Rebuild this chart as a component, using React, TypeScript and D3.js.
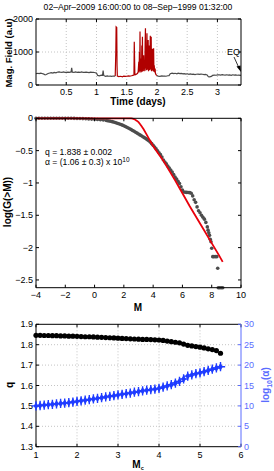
import React from "react";
import * as d3 from "d3";

const FONT = '"Liberation Sans", Arial, Helvetica, sans-serif';

// ---- top panel: magnetic field time series ----
const greyT1 = [0, 0.03, 0.05, 0.08, 0.1, 0.13, 0.15, 0.17, 0.2, 0.23, 0.25, 0.28, 0.3, 0.33, 0.35, 0.38, 0.4, 0.43, 0.45, 0.48, 0.5, 0.53, 0.55, 0.58, 0.59, 0.6, 0.63, 0.65, 0.68, 0.7, 0.73, 0.75, 0.78, 0.8, 0.83, 0.85, 0.88, 0.9, 0.93, 0.95, 0.98, 1.0, 1.02, 1.05, 1.08, 1.1, 1.11, 1.12, 1.15, 1.18, 1.2, 1.23, 1.25, 1.28, 1.31];
const greyV1 = [340, 355, 345, 360, 350, 330, 305, 320, 350, 365, 375, 360, 380, 370, 385, 400, 390, 380, 395, 385, 380, 390, 385, 395, 520, 390, 380, 395, 385, 390, 380, 395, 385, 380, 390, 385, 375, 390, 380, 385, 370, 360, 290, 280, 300, 295, 440, 290, 260, 275, 265, 270, 262, 272, 270];
const redT = [1.31, 1.32, 1.325, 1.335, 1.34, 1.345, 1.37, 1.4, 1.43, 1.45, 1.48, 1.5, 1.53, 1.55, 1.58, 1.6, 1.62, 1.625, 1.635, 1.64, 1.66, 1.68, 1.69, 1.7, 1.705, 1.71, 1.715, 1.72, 1.725, 1.73, 1.735, 1.74, 1.745, 1.75, 1.755, 1.76, 1.765, 1.77, 1.775, 1.78, 1.785, 1.79, 1.8, 1.805, 1.81, 1.815, 1.82, 1.825, 1.83, 1.835, 1.84, 1.845, 1.85, 1.855, 1.86, 1.865, 1.87, 1.875, 1.88, 1.885, 1.89, 1.895, 1.9, 1.905, 1.91, 1.915, 1.92, 1.925, 1.93, 1.935, 1.94, 1.945, 1.95, 1.955, 1.96, 1.965, 1.97, 1.975, 1.98, 1.99, 2.0];
const redV = [270, 1000, 1760, 1740, 600, 270, 255, 265, 250, 270, 260, 265, 275, 270, 280, 290, 300, 1310, 320, 310, 330, 350, 420, 700, 380, 1000, 450, 1620, 420, 600, 380, 800, 430, 1200, 400, 1460, 450, 700, 420, 900, 480, 600, 420, 1300, 1720, 500, 1000, 450, 800, 1570, 460, 700, 480, 1360, 420, 900, 500, 1200, 450, 800, 1490, 470, 600, 1460, 420, 900, 500, 1100, 440, 700, 420, 1110, 400, 600, 450, 380, 500, 350, 330, 300, 290];
const greyT2 = [2.0, 2.02, 2.05, 2.08, 2.1, 2.13, 2.15, 2.18, 2.2, 2.22, 2.25, 2.28, 2.3, 2.33, 2.35, 2.38, 2.4, 2.43, 2.45, 2.48, 2.5, 2.53, 2.55, 2.58, 2.6, 2.63, 2.65, 2.68, 2.7, 2.73, 2.75, 2.78, 2.8, 2.83, 2.85, 2.87, 2.9, 2.92, 2.95, 2.98, 3.0, 3.03, 3.05, 3.08, 3.1, 3.13, 3.15, 3.18, 3.2, 3.23, 3.25, 3.28, 3.3, 3.33, 3.35, 3.39];
const greyV2 = [290, 270, 262, 275, 268, 272, 265, 280, 285, 340, 360, 345, 355, 340, 360, 345, 350, 335, 345, 330, 340, 325, 335, 320, 330, 315, 325, 330, 320, 330, 325, 315, 320, 305, 250, 245, 260, 290, 300, 295, 305, 310, 300, 315, 305, 300, 310, 300, 305, 295, 310, 300, 305, 295, 300, 290];
const timeTicks = [0.5, 1, 1.5, 2, 2.5, 3];
const fieldTicks = [0, 1000, 2000];

// ---- middle panel: cumulative distribution and q-exponential fit ----
const magM = [-4.0, -3.8, -3.6, -3.4, -3.2, -3.0, -2.8, -2.6, -2.4, -2.2, -2.0, -1.8, -1.6, -1.4, -1.2, -1.0, -0.8, -0.6, -0.4, -0.2, 0.0, 0.2, 0.4, 0.6, 0.8, 0.9, 1.0, 1.1, 1.2, 1.3, 1.4, 1.5, 1.6, 1.7, 1.8, 1.9, 2.0, 2.1, 2.2, 2.3, 2.4, 2.5, 2.6, 2.7, 2.8, 2.9, 3.0, 3.1, 3.2, 3.3, 3.4, 3.5, 3.6, 3.7, 3.8, 3.9, 4.0, 4.1, 4.2, 4.3, 4.4, 4.5, 4.6, 4.7, 4.8, 4.9, 5.0, 5.1, 5.2, 5.3, 5.4, 5.5, 5.6, 5.7, 5.8, 5.9, 6.0, 6.1, 6.2, 6.3, 6.4, 6.5, 6.6, 6.7, 6.8, 6.9, 7.0, 7.1, 7.2, 7.3, 7.4, 7.5, 7.6, 7.7, 7.75, 7.8, 7.85, 7.9, 7.95, 8.0, 8.07, 8.15, 8.25, 8.35, 8.41, 8.45, 8.55, 8.65, 8.75];
const magLogG = [0, 0, 0, 0, 0, 0, 0, 0, 0, 0, 0, 0, 0, -0.001, -0.002, -0.003, -0.005, -0.007, -0.009, -0.012, -0.015, -0.018, -0.022, -0.027, -0.033, -0.037, -0.041, -0.046, -0.052, -0.058, -0.065, -0.072, -0.08, -0.088, -0.097, -0.106, -0.116, -0.127, -0.138, -0.15, -0.162, -0.175, -0.188, -0.201, -0.215, -0.229, -0.243, -0.257, -0.271, -0.285, -0.299, -0.314, -0.33, -0.348, -0.368, -0.392, -0.418, -0.445, -0.473, -0.502, -0.532, -0.562, -0.6, -0.645, -0.675, -0.705, -0.74, -0.77, -0.8, -0.83, -0.87, -0.91, -0.94, -0.975, -1.01, -1.06, -1.11, -1.14, -1.143, -1.146, -1.148, -1.15, -1.16, -1.2, -1.26, -1.3, -1.37, -1.43, -1.46, -1.5, -1.53, -1.56, -1.61, -1.68, -1.73, -1.77, -1.81, -1.87, -1.91, -2.01, -2.14, -2.14, -2.14, -2.14, -2.32, -2.62, -2.62, -2.62, -2.62];
const fitM = [-4, 2.5, 2.6, 2.7, 2.8, 2.9, 3.0, 3.1, 3.2, 3.35, 3.5, 3.7, 3.85, 4.0, 4.3, 4.7, 5.0, 5.5, 6.0, 6.5, 7.0, 7.5, 8.0, 8.5, 8.75];
const fitLogG = [0, 0, -0.004, -0.012, -0.025, -0.04, -0.06, -0.088, -0.12, -0.17, -0.23, -0.31, -0.37, -0.43, -0.53, -0.655, -0.77, -0.96, -1.16, -1.36, -1.55, -1.74, -1.93, -2.12, -2.22];
const mTicks = [-4, -2, 0, 2, 4, 6, 8, 10];
const gTicks = [0, -0.5, -1, -1.5, -2, -2.5];

// ---- bottom panel: q and log10(alpha) versus Mc ----
const mc = [1.0, 1.1, 1.2, 1.3, 1.4, 1.5, 1.6, 1.7, 1.8, 1.9, 2.0, 2.1, 2.2, 2.3, 2.4, 2.5, 2.6, 2.7, 2.8, 2.9, 3.0, 3.1, 3.2, 3.3, 3.4, 3.5, 3.6, 3.7, 3.8, 3.9, 4.0, 4.1, 4.2, 4.3, 4.4, 4.5, 4.6, 4.7, 4.8, 4.9, 5.0, 5.1, 5.2, 5.3, 5.4, 5.5];
const qVals = [1.846, 1.846, 1.845, 1.845, 1.844, 1.844, 1.843, 1.843, 1.842, 1.842, 1.841, 1.84, 1.839, 1.839, 1.838, 1.837, 1.836, 1.835, 1.834, 1.833, 1.832, 1.831, 1.83, 1.829, 1.828, 1.827, 1.826, 1.826, 1.825, 1.824, 1.823, 1.821, 1.818, 1.815, 1.812, 1.809, 1.803, 1.797, 1.794, 1.791, 1.788, 1.784, 1.78, 1.776, 1.771, 1.758];
const logAlpha = [10.0, 10.1, 10.2, 10.3, 10.4, 10.5, 10.6, 10.7, 10.8, 10.95, 11.1, 11.25, 11.4, 11.55, 11.7, 11.85, 12.0, 12.2, 12.35, 12.5, 12.7, 12.85, 13.0, 13.15, 13.35, 13.5, 13.7, 13.85, 14.0, 14.1, 14.3, 14.6, 14.9, 15.2, 15.6, 16.0, 16.6, 17.3, 17.6, 17.9, 18.1, 18.4, 18.7, 19.0, 19.3, 19.6];
const mcTicks = [1, 2, 3, 4, 5, 6];
const qTicks = [1.3, 1.4, 1.5, 1.6, 1.7, 1.8, 1.9];
const alphaTicks = [0, 5, 10, 15, 20, 25, 30];

const L = 36;
const R = 241;
const TK = 3;
const GRID = "#c4c4c4";
const BLUE = "#1f3cff";
const BLUE_AX = "#5a6cff";

const fmt = (v: number) => (v < 0 ? "\u2212" + String(-v) : String(v));

const App = () => {
  // scales
  const xT = d3.scaleLinear().domain([0, 3.39]).range([L, R]);
  const yF = d3.scaleLinear().domain([0, 2000]).range([85, 19]);
  const xM = d3.scaleLinear().domain([-4, 10]).range([L, R]);
  const yG = d3.scaleLinear().domain([-2.62, 0]).range([287.7, 118.3]);
  const xC = d3.scaleLinear().domain([1, 6]).range([L, R]);
  const yQ = d3.scaleLinear().domain([1.3, 1.9]).range([446.7, 324.3]);
  const yA = d3.scaleLinear().domain([0, 30]).range([446.7, 324.3]);

  const tLine = d3.line<[number, number]>().x((d) => xT(d[0])).y((d) => yF(d[1]));
  const grey1 = tLine(greyT1.map((t, i) => [t, greyV1[i]]) as [number, number][]);
  const red = tLine(redT.map((t, i) => [t, redV[i]]) as [number, number][]);
  const grey2 = tLine(greyT2.map((t, i) => [t, greyV2[i]]) as [number, number][]);
  const fit = d3
    .line<number>()
    .x((m) => xM(m))
    .y((_, i) => yG(fitLogG[i]))(fitM);

  const diamond = d3.symbol(d3.symbolDiamond, 18)();
  const plus = d3.symbol(d3.symbolPlus, 30)();

  const txt = { fontFamily: FONT, fontSize: 9 } as const;
  const bold = { fontFamily: FONT, fontSize: 10, fontWeight: "bold" } as const;

  const frame = (top: number, bottom: number, xs: number[], xf: (v: number) => number, ys: number[], yf: (v: number) => number, rightColor?: string) => (
    <g>
      {xs.map((v) => (
        <g key={"x" + v}>
          <line x1={xf(v)} x2={xf(v)} y1={bottom} y2={bottom - TK} stroke="#000" />
          <line x1={xf(v)} x2={xf(v)} y1={top} y2={top + TK} stroke="#000" />
        </g>
      ))}
      {ys.map((v) => (
        <g key={"y" + v}>
          <line x1={L} x2={L + TK} y1={yf(v)} y2={yf(v)} stroke="#000" />
          {!rightColor && <line x1={R} x2={R - TK} y1={yf(v)} y2={yf(v)} stroke="#000" />}
        </g>
      ))}
      <line x1={L} x2={R} y1={top} y2={top} stroke="#000" />
      <line x1={L} x2={R} y1={bottom} y2={bottom} stroke="#000" />
      <line x1={L} x2={L} y1={top} y2={bottom} stroke="#000" />
      <line x1={R} x2={R} y1={top} y2={bottom} stroke={rightColor || "#000"} />
    </g>
  );

  return (
    <svg width={274} height={471} style={{ position: "absolute", left: 0, top: 0 }}>
      <rect width={274} height={471} fill="#fff" />

      {/* ---------- top panel ---------- */}
      <text x={138} y={10} textAnchor="middle" style={{ ...txt, fontSize: 8.6 }}>
        02–Apr–2009 16:00:00 to 08–Sep–1999 01:32:00
      </text>
      {timeTicks.map((v) => (
        <line key={v} x1={xT(v)} x2={xT(v)} y1={19} y2={85} stroke={GRID} strokeDasharray="1,2" />
      ))}
      <line x1={L} x2={R} y1={yF(1000)} y2={yF(1000)} stroke={GRID} strokeDasharray="1,2" />
      <path d={grey1 || ""} fill="none" stroke="#4a4a4a" strokeWidth={1.2} />
      <path d={grey2 || ""} fill="none" stroke="#4a4a4a" strokeWidth={1.2} />
      <path d={red || ""} fill="none" stroke="#b00000" strokeWidth={1.2} />
      {frame(19, 85, timeTicks, xT, fieldTicks, yF)}
      {fieldTicks.map((v) => (
        <text key={v} x={33} y={yF(v) + 3} textAnchor="end" style={txt}>
          {v}
        </text>
      ))}
      {timeTicks.map((v) => (
        <text key={v} x={xT(v)} y={95} textAnchor="middle" style={txt}>
          {v}
        </text>
      ))}
      <text x={138} y={104.5} textAnchor="middle" style={bold}>
        Time (days)
      </text>
      <text transform="translate(12,53) rotate(-90)" textAnchor="middle" style={{ ...bold, fontSize: 9.5 }}>
        Mag. Field (a.u)
      </text>
      <text x={227} y={55} style={txt}>
        EQ
      </text>
      <line x1={234} y1={57} x2={239} y2={68} stroke="#000" strokeWidth={0.8} />
      <path d="M241,72 L236.5,66.5 L240.5,65.5 Z" fill="#000" />

      {/* ---------- middle panel ---------- */}
      {magM.map((m, i) => (
        <circle key={i} cx={xM(m)} cy={yG(magLogG[i])} r={1.8} fill="#4d4d4d" />
      ))}
      <path d={fit || ""} fill="none" stroke="#e8000b" strokeWidth={1.8} />
      {frame(118.3, 287.7, mTicks, xM, gTicks, yG)}
      {gTicks.map((v) => (
        <text key={v} x={33} y={yG(v) + 3} textAnchor="end" style={txt}>
          {fmt(v)}
        </text>
      ))}
      {mTicks.map((v) => (
        <text key={v} x={xM(v)} y={298} textAnchor="middle" style={txt}>
          {fmt(v)}
        </text>
      ))}
      <text x={138} y={311} textAnchor="middle" style={bold}>
        M
      </text>
      <text transform="translate(11,202) rotate(-90)" textAnchor="middle" style={bold}>
        log(G(&gt;M))
      </text>
      <text x={45} y={155} style={{ ...txt, fontSize: 8.6 }}>
        q = 1.838 ± 0.002
      </text>
      <text x={45} y={165} style={{ ...txt, fontSize: 8.6 }}>
        α = (1.06 ± 0.3) x 10
        <tspan dy={-3.5} fontSize={6.5}>
          10
        </tspan>
      </text>

      {/* ---------- bottom panel ---------- */}
      {mcTicks.slice(1, -1).map((v) => (
        <line key={v} x1={xC(v)} x2={xC(v)} y1={324.3} y2={446.7} stroke={GRID} strokeDasharray="1,2" />
      ))}
      {qTicks.slice(1, -1).map((v) => (
        <line key={v} x1={L} x2={R} y1={yQ(v)} y2={yQ(v)} stroke={GRID} strokeDasharray="1,2" />
      ))}
      {frame(324.3, 446.7, mcTicks, xC, qTicks, yQ, BLUE_AX)}
      {alphaTicks.map((v) => (
        <g key={v}>
          <line x1={R} x2={R - TK} y1={yA(v)} y2={yA(v)} stroke={BLUE_AX} />
          <text x={244} y={yA(v) + 3} style={{ ...txt, fill: BLUE_AX }}>
            {v}
          </text>
        </g>
      ))}
      {qTicks.map((v) => (
        <text key={v} x={33} y={yQ(v) + 3} textAnchor="end" style={txt}>
          {v.toFixed(1)}
        </text>
      ))}
      {mcTicks.map((v) => (
        <text key={v} x={xC(v)} y={458} textAnchor="middle" style={txt}>
          {v}
        </text>
      ))}
      {mc.map((m, i) => (
        <circle key={"q" + i} cx={xC(m)} cy={yQ(qVals[i])} r={2.6} fill="#000" />
      ))}
      {mc.map((m, i) => (
        <g key={"a" + i} transform={`translate(${xC(m)},${yA(logAlpha[i])})`}>
          <path d={diamond || ""} fill={BLUE} />
          <path d={plus || ""} fill="none" stroke={BLUE} strokeWidth={1.4} />
        </g>
      ))}
      <text x={138} y={467.5} textAnchor="middle" style={bold}>
        M
        <tspan dy={2} fontSize={5.5}>
          c
        </tspan>
      </text>
      <text transform="translate(13,385) rotate(-90)" textAnchor="middle" style={bold}>
        q
      </text>
      <text transform="translate(269,385) rotate(-90)" textAnchor="middle" style={{ ...bold, fill: BLUE_AX }}>
        log
        <tspan dy={2.5} fontSize={7}>
          10
        </tspan>
        <tspan dy={-2.5}>(α)</tspan>
      </text>
    </svg>
  );
};

export default App;
